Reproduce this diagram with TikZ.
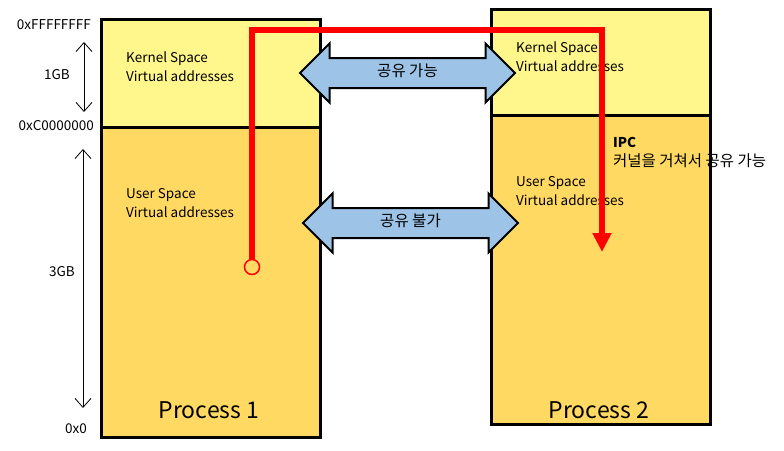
\documentclass[tikz,border=0pt]{standalone}
\usepackage{fontspec}
\setmainfont{Noto Sans CJK KR}
\usetikzlibrary{arrows.meta,shapes.arrows,positioning}
\definecolor{kernelcol}{HTML}{FFF78C}
\definecolor{usercol}{HTML}{FFD961}
\definecolor{sharecol}{HTML}{9DC3E6}
\definecolor{ipccol}{RGB}{255,0,0}
\newcommand{\krsize}{\fontsize{15.5}{19}\selectfont}
\tikzset{
	region/.style={draw=black, line width=2.5pt, anchor=north west, inner sep=0pt, minimum width=219pt},
	kernel/.style={region, fill=kernelcol},
	user/.style={region, fill=usercol},
	label/.style={align=left, inner sep=0pt, font=\fontsize{13.5}{19}\selectfont},
	addr/.style={inner sep=0pt, font=\fontsize{13.5}{16}\selectfont},
	dim/.style={{Straight Barb[length=9pt, width=16pt]}-{Straight Barb[length=9pt, width=16pt]}, line width=0.8pt},
	share/.style={double arrow, draw=black, line width=2pt, fill=sharecol, double arrow head extend=14.5pt,
		text height=9pt, text depth=3pt, inner ysep=8pt, inner xsep=0pt, font=\krsize},
	ipc/.style={draw=ipccol, line width=6pt, -{Triangle[length=19pt, width=18pt]}}
}

\begin{document}
\begin{tikzpicture}[x=1pt, y=-1pt]
	\useasboundingbox (0,0) rectangle (784,450);
	% processes
	\foreach \n/\x/\ytop/\ydiv/\ybot in {1/100/18/126/436, 2/490/8/114/423} {
		\node[user, minimum height={\ybot-\ydiv}] (u\n) at (\x,\ydiv) {};
		\node[kernel, minimum height={\ydiv-\ytop}] (k\n) at (\x,\ytop) {};
		\node[label, below right=34pt and 26pt of k\n.north west] (kt\n) {Kernel Space\\Virtual addresses};
		\node[label, below right=62pt and 26pt of u\n.north west] (ut\n) {User Space\\Virtual addresses};
		\node[anchor=base, inner sep=0pt, font=\fontsize{23}{27}\selectfont] (pn\n) at (\x+109,418) {Process \n};
	}
	% address axis
	\node[addr, anchor=east] (top) at (91,25) {0xFFFFFFFF};
	\node[addr, anchor=east] (mid) at (94,126) {0xC0000000};
	\node[addr, anchor=east] (bot) at (87,429) {0x0};
	\node[addr] (gb1) at (57,75) {1GB};
	\node[addr] (gb3) at (62,272) {3GB};
	\coordinate (gb1a) at (84,42);
	\coordinate (gb1b) at (84,112);
	\coordinate (gb3a) at (83,149);
	\coordinate (gb3b) at (83,408);
	\draw[dim] (gb1a) -- (gb1b);
	\draw[dim] (gb3a) -- (gb3b);
	% sharing
	\node[share, minimum height=215pt] (kshare) at (407.5,73) {공유 가능};
	\node[share, minimum height=215pt] (ushare) at (410.5,223) {공유 불가};
	% ipc
	\node[draw=ipccol, line width=1.5pt, circle, minimum size=15pt, inner sep=0pt] (src) at (252,267) {};
	\coordinate (ipcturn) at (602,30);
	\coordinate (ipcend) at (602,252);
	\draw[ipc] (src.north) |- (ipcturn) -- (ipcend);
	\node[label, anchor=north west] (ipctext) at (613,137) {\textbf{IPC}\\{\krsize 커널을 거쳐서 공유 가능}};
\end{tikzpicture}
\end{document}
